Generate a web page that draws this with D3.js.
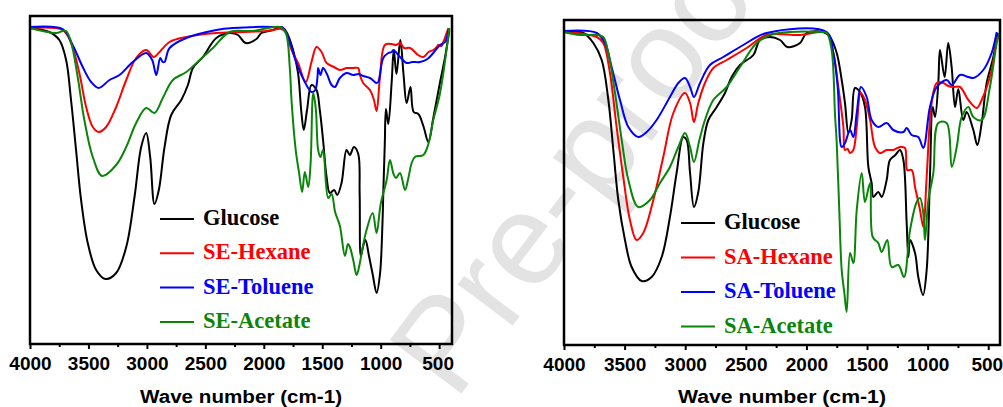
<!DOCTYPE html>
<html>
<head>
<meta charset="utf-8">
<script src="https://cdn.jsdelivr.net/npm/d3@7"></script>
<style>
  body { margin: 0; background: #fff; }
  svg { display: block; }
  .tick text { font-family: Arial, "Liberation Sans", sans-serif; font-weight: bold; font-size: 19px; fill: #000; }
  .tick line { stroke: #000; stroke-width: 2; }
  .legend text { font-family: "Times New Roman", "Liberation Serif", serif; font-weight: bold; font-size: 22.5px; }
  .axisTitle { font-family: Arial, "Liberation Sans", sans-serif; font-weight: bold; font-size: 18px; }
</style>
</head>
<body>
<div id="chart"></div>
<script>
// FTIR spectra, wave number (cm-1) vs transmittance (arbitrary units)

var seriesNames = ["Glucose", "Hexane", "Toluene", "Acetate"];
var seriesColors = ["#000000", "#ff0000", "#0000ff", "#0a850a"];
var leftLabels = ["Glucose", "SE-Hexane", "SE-Toluene", "SE-Acetate"];
var rightLabels = ["Glucose", "SA-Hexane", "SA-Toluene", "SA-Acetate"];
var tickLabels = [4000, 3500, 3000, 2500, 2000, 1500, 1000, 500];
var minorTicks = [3750, 3250, 2750, 2250, 1750, 1250, 750];

// Left panel (SE extracts)
var seGlucose = [[4000,316],[3835,312],[3749,304],[3691,284],[3649,244],[3606,194],[3563,144],[3506,101],[3434,74],[3355,65],[3263,71],[3177,97],[3106,147],[3049,197],[3006,211],[2972,187],[2935,140],[2898,154],[2849,197],[2792,229],[2706,244],[2649,259],[2606,276],[2521,287],[2406,306],[2292,311],[2221,309],[2155,301],[2063,305],[2020,311],[1921,314],[1849,317],[1806,312],[1749,294],[1707,271],[1678,231],[1658,214],[1630,234],[1592,259],[1549,254],[1521,234],[1493,204],[1463,167],[1435,151],[1398,154],[1372,149],[1335,161],[1292,194],[1264,189],[1229,197],[1192,190],[1180,150],[1170,88],[1150,98],[1130,104],[1100,88],[1069,70],[1035,51],[1006,70],[985,120],[978,150],[965,200],[955,235],[935,220],[906,262],[888,294],[865,270],[832,304],[805,270],[778,241],[745,257],[718,232],[678,230],[635,218],[592,202],[550,226],[492,262],[449,287],[413,314]];
var seHexane = [[4000,316],[3721,314],[3649,301],[3578,271],[3520,237],[3463,217],[3412,212],[3349,217],[3263,237],[3177,264],[3092,286],[3006,294],[2943,287],[2892,292],[2806,302],[2663,307],[2406,311],[1977,313],[1849,315],[1806,311],[1763,294],[1707,281],[1641,262],[1592,282],[1549,297],[1506,292],[1463,281],[1400,277],[1349,274],[1290,276],[1235,276],[1192,276],[1178,269],[1150,261],[1092,254],[1060,245],[1035,233],[1006,267],[964,299],[906,300],[870,299],[835,301],[800,296],[749,296],[680,289],[635,287],[590,292],[550,294],[520,297],[507,299],[480,298],[464,302],[421,316]];
var seToluene = [[4000,317],[3721,315],[3635,299],[3549,277],[3477,262],[3412,256],[3320,264],[3235,269],[3121,282],[3006,291],[2955,284],[2920,269],[2886,286],[2865,282],[2849,282],[2806,296],[2663,306],[2406,314],[2264,316],[1921,317],[1835,316],[1778,302],[1721,281],[1649,262],[1592,252],[1560,254],[1540,268],[1535,276],[1515,269],[1493,276],[1460,270],[1420,259],[1392,257],[1349,266],[1292,271],[1235,269],[1190,270],[1150,268],[1092,266],[1035,261],[1021,262],[978,286],[935,291],[906,292],[892,294],[835,287],[778,281],[730,282],[664,282],[600,285],[550,291],[492,299],[449,302],[421,314]];
var seAcetate = [[4000,316],[3777,311],[3720,313],[3691,313],[3649,302],[3592,267],[3535,224],[3463,187],[3383,168],[3263,179],[3177,197],[3092,221],[3006,236],[2935,231],[2864,246],[2778,264],[2663,272],[2549,284],[2435,296],[2292,312],[2092,313],[1863,317],[1812,311],[1778,277],[1763,244],[1727,194],[1698,171],[1672,152],[1649,172],[1620,157],[1600,180],[1577,251],[1555,235],[1535,194],[1515,187],[1493,194],[1449,146],[1420,150],[1390,132],[1349,118],[1306,88],[1280,100],[1264,97],[1235,84],[1206,69],[1180,80],[1163,91],[1121,114],[1069,131],[1035,111],[1000,140],[949,164],[921,184],[890,170],[869,166],[835,171],[792,154],[765,165],[735,181],[707,187],[635,189],[592,200],[550,224],[492,251],[413,316]];

// Right panel (SA extracts)
var saGlucose = [[4000,313],[3840,312],[3758,302],[3689,285],[3634,245],[3593,195],[3552,145],[3497,105],[3442,78],[3359,64],[3277,68],[3194,88],[3126,128],[3071,172],[3016,208],[2988,205],[2960,172],[2928,138],[2892,153],[2850,202],[2809,225],[2740,238],[2672,252],[2617,268],[2548,280],[2438,290],[2383,305],[2301,308],[2218,305],[2158,298],[2053,302],[1998,312],[1860,313],[1805,308],[1750,292],[1709,265],[1682,242],[1654,212],[1627,225],[1599,257],[1558,253],[1517,238],[1489,178],[1462,162],[1448,148],[1407,153],[1379,148],[1338,165],[1311,185],[1266,190],[1228,195],[1200,185],[1173,122],[1159,88],[1145,105],[1104,92],[1077,68],[1038,50],[1008,75],[981,168],[958,238],[939,228],[912,262],[898,295],[860,268],[830,302],[802,278],[774,238],[747,256],[706,225],[678,233],[623,215],[590,200],[554,222],[513,262],[458,288],[425,312]];
var saHexane = [[4000,313],[3730,308],[3676,302],[3621,272],[3566,218],[3511,168],[3456,125],[3401,105],[3346,112],[3263,145],[3181,188],[3098,232],[3002,252],[2960,242],[2928,223],[2892,242],[2837,262],[2768,277],[2658,285],[2493,297],[2328,310],[2053,310],[1833,312],[1778,292],[1737,258],[1695,218],[1682,195],[1660,196],[1640,192],[1613,195],[1585,218],[1552,252],[1517,245],[1475,225],[1434,198],[1393,192],[1338,195],[1283,195],[1228,198],[1187,197],[1168,175],[1132,175],[1104,158],[1063,135],[1036,118],[1008,168],[967,242],[925,262],[871,262],[830,259],[788,258],[733,258],[664,245],[595,237],[554,245],[472,275],[430,308]];
var saToluene = [[4000,314],[3730,312],[3662,302],[3607,278],[3538,245],[3469,218],[3387,208],[3318,213],[3236,225],[3126,248],[3057,262],[3002,267],[2960,258],[2928,248],[2878,262],[2796,280],[2686,288],[2521,300],[2328,312],[1833,313],[1778,292],[1742,258],[1709,198],[1682,202],[1640,215],[1613,208],[1585,232],[1550,258],[1503,248],[1462,225],[1407,218],[1338,222],[1283,215],[1200,213],[1173,217],[1132,210],[1077,208],[1036,197],[981,238],[925,258],[843,265],[801,260],[733,270],[664,268],[623,267],[541,275],[472,292],[430,313]];
var saAcetate = [[4000,313],[3868,310],[3730,310],[3676,308],[3634,292],[3579,252],[3524,205],[3469,165],[3387,138],[3291,145],[3208,162],[3126,178],[3057,198],[3002,212],[2960,198],[2928,183],[2883,205],[2837,225],[2768,245],[2658,258],[2548,278],[2410,302],[2273,311],[1888,313],[1833,312],[1792,295],[1764,230],[1750,202],[1729,135],[1709,75],[1687,52],[1668,33],[1640,92],[1613,82],[1585,135],[1544,172],[1517,143],[1475,162],[1453,108],[1407,102],[1379,93],[1333,105],[1297,78],[1242,80],[1195,68],[1145,115],[1090,143],[1063,147],[1036,132],[1022,105],[994,145],[953,172],[912,222],[843,222],[801,178],[760,198],[719,228],[664,238],[623,228],[554,225],[486,258],[430,302],[408,312]];

var leftData = [seGlucose, seHexane, seToluene, seAcetate];
var rightData = [saGlucose, saHexane, saToluene, saAcetate];

var width = 1003;
var height = 407;

var svg = d3.select("#chart")
  .append("svg")
  .attr("width", width)
  .attr("height", height);

// Journal watermark, sits behind the plots
svg.append("text")
  .attr("transform", "translate(455,402) rotate(-53)")
  .attr("font-family", "Arial, 'Liberation Sans', sans-serif")
  .attr("font-size", 130)
  .attr("fill", "#e3e3e3")
  .text("Pre-proof");

function drawPanel(box, data, labels, legendBox) {
  var x = d3.scaleLinear()
    .domain(box.xDomain)
    .range([box.left, box.right]);
  var y = d3.scaleLinear()
    .domain([0, box.bottom - box.top])
    .range([box.bottom, box.top]);

  var g = svg.append("g");

  // minor ticks
  g.append("g")
    .attr("transform", "translate(0," + box.bottom + ")")
    .call(d3.axisBottom(x).tickValues(minorTicks).tickSize(3).tickFormat(""))
    .call(function(a) { a.select(".domain").remove(); });

  // major ticks + labels
  g.append("g")
    .attr("transform", "translate(0," + box.bottom + ")")
    .call(d3.axisBottom(x).tickValues(tickLabels).tickSize(5).tickSizeOuter(0).tickPadding(8).tickFormat(d3.format("d")))
    .call(function(a) {
      a.select(".domain").remove();
      a.selectAll(".tick text").filter(function(d) { return d === 500; }).attr("dx", -1.5);
    });

  var line = d3.line()
    .x(function(d) { return x(d[0]); })
    .y(function(d) { return y(d[1]); })
    .curve(d3.curveCatmullRom.alpha(0.5));

  data.forEach(function(series, i) {
    g.append("path")
      .datum(series)
      .attr("fill", "none")
      .attr("stroke", seriesColors[i])
      .attr("stroke-width", 2)
      .attr("stroke-linejoin", "round")
      .attr("d", line);
  });

  // frame
  g.append("rect")
    .attr("x", box.left)
    .attr("y", box.top)
    .attr("width", box.right - box.left)
    .attr("height", box.bottom - box.top)
    .attr("fill", "none")
    .attr("stroke", "#000")
    .attr("stroke-width", 2.5);

  // legend
  var lg = g.append("g").attr("class", "legend");
  labels.forEach(function(label, i) {
    var ly = legendBox.y + i * legendBox.step;
    lg.append("line")
      .attr("x1", legendBox.x)
      .attr("x2", legendBox.x + 34)
      .attr("y1", ly)
      .attr("y2", ly)
      .attr("stroke", seriesColors[i])
      .attr("stroke-width", 2);
    lg.append("text")
      .attr("x", legendBox.x + 43)
      .attr("y", ly + 6)
      .attr("fill", seriesColors[i])
      .text(label);
  });

  g.append("text")
    .attr("class", "axisTitle")
    .attr("x", (box.left + box.right) / 2)
    .attr("y", 403)
    .attr("text-anchor", "middle")
    .attr("textLength", box.titleWidth)
    .attr("lengthAdjust", "spacingAndGlyphs")
    .text("Wave number (cm-1)");
}

drawPanel({ left: 30, right: 452, top: 16, bottom: 344, xDomain: [4000, 390], titleWidth: 202 },
  leftData, leftLabels, { x: 160, y: 219, step: 34.3 });
drawPanel({ left: 564, right: 1000, top: 20, bottom: 345, xDomain: [4000, 403], titleWidth: 208 },
  rightData, rightLabels, { x: 681, y: 223, step: 34.5 });
</script>
</body>
</html>
